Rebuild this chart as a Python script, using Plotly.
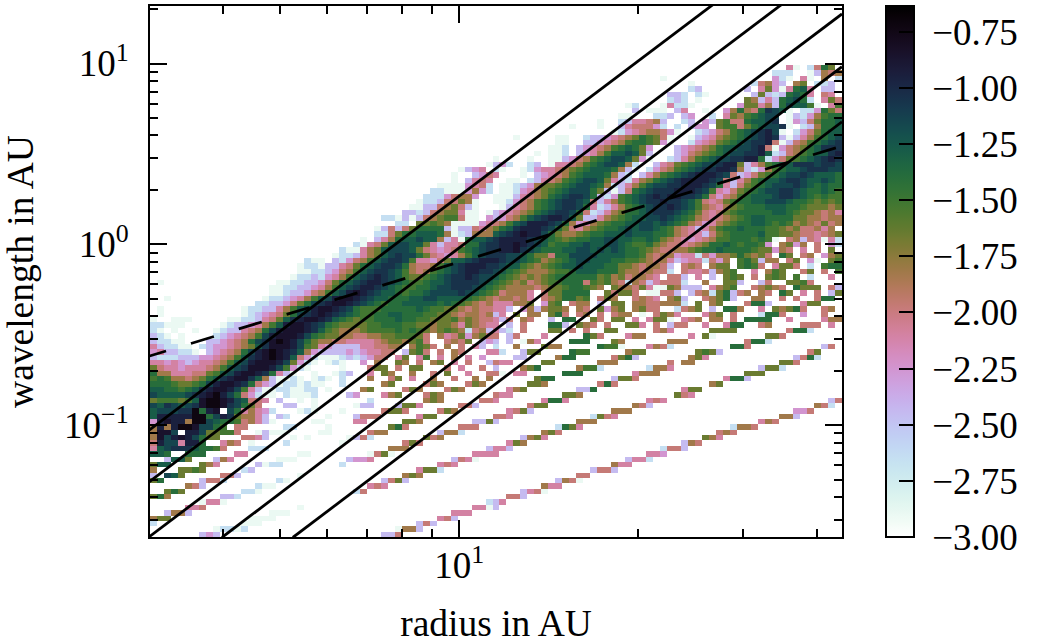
import math
import numpy as np
import plotly.graph_objects as go

# cell levels, one letter per colour step
level_values = {'a': -2.90, 'b': -2.65, 'c': -2.45, 'd': -2.25, 'e': -2.10, 'f': -1.97, 'g': -1.82, 'h': -1.65,
                'i': -1.52, 'j': -1.40, 'k': -1.28, 'l': -1.15, 'm': -1.05, 'n': -0.95, 'o': -0.85, 'p': -0.72}

# row index (0 = bottom): "first_column:levels ..."
rows_upper = {
    87: "91:ea.bfjh",
    86: "89:bbb..acgfg",
    85: "73:a 89:dba.ea.g.b",
    84: "77:a 86:bfgdc.gh.bbc",
    83: "77:bc 85:c.ehdaejke.cc",
    82: "74:ccb.ba 86:chcbcjkje.fe",
    81: "74:bcb.a 85:hgcecjkljb.ehf",
    80: "68:ab 73:aebba 84:dhhegcjlkkia.eif",
    79: "69:c.aaa.ce 79:a 82:dgjgfjmlka.bbdjhf",
    78: "67:aa...bbc.cd 80:b.ehgijkll.acbdgijji",
    77: "64:a..bceefgc..bc.dchiffjkklm.adcfhjjk",
    76: "60:a...a..cefffdb.b.cdd.hiifhjkllma.bcgjjkk",
    75: "66:abdefggfda..bcdfgijklmnla.bdfhjkk",
    74: "52:a 58:aa 62:bccdefghjihfa..acdeghijklmnmcacegijkl",
    73: "58:aa..ccdefgijjihda..bdefhijklmmnfacfgijklm",
    72: "57:aab.cdefgijkjhd...cdefghjkkllmnfadfghjkmmm",
    71: "55:a.aab.cdegikklkhc...cdfghijkllmmnkbcfgijkkmn",
    70: "49:a 54:a..aacdfgijkllkhda..bcegijkllmmnnjbdfhijklmnm",
    69: "48:acdb..bc.aeefgijkllkgb..cefhijkllmnnhcegijkkmmmlmml",
    68: "44:acde.ba..abdeefghijkkkjgca.bdfgijklmmnnmgcbdgijkklmmmll",
    67: "43:a..cdfe...a.cdefgijkkkjgcb.cegijklmnnnmlfcdfhijkllmlkkkj",
    66: "43:a.cefe..aa.bcefgijkllkhecbeghjklmnnnnmlfcegijkklmmlkklkj",
    65: "41:aaaadefb.aabcdghhijkllkjgbcegikllmmnnnmljecfhijklllmlkjkjj",
    64: "40:bbaaadgdb.aabdeghijkllljhcacfjklmmmnnnmliedfhijkllmmlkjjkji",
    63: "39:bbbdfggd..aaacefghjklmmljcbdijklmnmnnmmljfdfgijkkklmmlkjijii",
    62: "38:abbcffhga..aabdfgijklmmlkfcegijklmmnmmlkifefhijjkklllkjjihihi",
    61: "37:aaccfghfca...acefgijklmmljebcegijklmmnmlkigfeghijjjkkkjjihhhgh",
    60: "36:ccbcfghheaa.acdefghjklmmljfbceghjjklmmmlkjhfefhijjjjjkkjihhgfge",
    59: "33:bbacacfghiifaa.dcdfgiklmnnmkhcceghijkkllmlkjigfefghijkkjjjjhhggfgg",
    58: "35:bb.hhihgaaaadefgiklnnnmljgdeghijjkkllklkjigfdeghijjkkjijighgfhfg",
    57: "32:acfcfhjjjjcaccfeghjkmnnnmljhfeghijjklkllkjigfecegijjkjjjiihghffgeg",
    56: "32:bbfhjjkkkjgabcgggklmnonnljhgghijjkkklkkkjjigfeecfhijjjjkiihhgffefgh",
    55: "30:a.cegjkklkkgceajkklmnnnnmlkjihijjkkllkkjjkjhgfedefgiijjjijia.fgcfeaeb",
    54: "29:baefhkllkkheceefjjlmmnnonmlkijjkklkkllkjiijhgffefghjjkjijjid.ghdg.f.db",
    53: "27:baaeghklllkhfedefijklmmnnomlkjjjkkllklklkjjihgffgghijjkjjjjihhdgf.e.f.h.f",
}
rows_middle = {
    52: "26:abbceghklmlljhfedegiklmmmllkjhhfjjllllkkkkjjigfggdeebfdgghjhghf.jh.fg.dgh",
    51: "22:baa.cbdfgiklmmlieedfhkklmnnnmllkjighijkllkkkjjiihgfgecdeebfdg.ijhcgg.fh.da.hi",
    50: "21:abbaccefhjklmmljgffgiklmnnnmmlkkihghijkklkkkjjhhgfggfc.fgf.ghh.ijif.ehhf.b.ijj",
    49: "21:aabbcdfgiklmmlkigfgijklmnnmmlkjihggghiijkkkjjjhggfgffb.feefcghi..e.gih..fh.f.ih",
    48: "20:abbcbdegiklmnmlkihhijklmmnmllkjihghghijjjjjjhighfggfe.ffc.e.c.hih.f.hih.i.b..e",
    47: "1:a 18:aabbccdfhjklmnnmlkjiijkklmmmmlk 49:jihghfghiijjjfihigfbgfcefffb..g..hhc..cf..hhif",
    46: "17:aabbccdegiklmnnmlkjiijjkllmmmlkj 49:ihggggfghhijjihg.hggfheaahgccc.eghi..fghgf.jhhh.fc",
    45: "17:aabccdfgiklnonmlkkjijjkllllmlkji 49:hfggge.fhhjjjj..hfhhf.aaffc.cfgbhjcfg.gf.jh.e.f.ch",
    44: "2:a 16:abbcdegiklnoonmlkkjjjkkllkkkkjihg 49:fggfge.fghjjhi.fhg..fgfe.ghc..fghjc..gg..f.f..fjj",
    43: "15:bbccdfhjlmnoonmlkjijjkkkkkjkjihgfg 49:eeeggh.dhi.fgg.c.hh.ggffgggb.h.gh...fjjc....ehh...e",
    42: "1:a 13:abbccegiklnoonmljiiijjjjjkjiihhgfgff 49:eec.dgcghhg.gf.hdgh.ghff..bfgh.c.jjg..e.hghjf..fg",
    41: "1:a 13:abcdefhjlmnonmlkjiijjkkjjjiihhgfggfg 49:ce.h.gg.hjf.fg.f.fgg.a.fhge...egh.f...bjjf..d..f",
    40: "0:a 3:aaa 11:aabbcefhkmnoonmkjihiijjjkjjiihhhighgff 49:ecf.gf..c.jj..hf.hh.e.ehha.efg.gg.f.jjjj..e....egg",
    39: "0:bbaaa 10:abccdegiknoonmljihhhhiijjjiihhghhgehgfe 49:e.c.f...jjc.hgf.f..hhe.f.cff..e..ejj..fg....fff.e",
    38: "0:ba.a..a 9:abccefgjlnooonmkihggghiiiijijihghihgbfgcecb.f...hh.f.f..hh.....fge.....hhhh.......fjjb",
    37: "0:cba.a 9:bcdefgilnooonljihhggffgghhiiihf.gefhdghff.cf...e.....jhf...egg......e.ha.......hhf",
    36: "0:cbbaa 8:ccdefgjlmoponljhggffeeeefghhghif..fgfh.cdc.c.age....jjj...hg......ggg........fjjb",
    35: "0:ecbbaa.bcddefghkmooonlihedcccceeffgg.gihf.g.f.ec.b..g...hgg.....jiia...egfb........jjf..........cf",
    34: "0:deccbba.cdefgjlnoponmkgdccccdcdeeff.chif.f.gf...eeb..chh....jii.....ghh.......hihc............fh",
    33: "0:cbbbcccddefgikmnoponkfdbaaabcbcdff.eh.ei.e.g.e.d....cc....gjj.....fhjc.......ghe............cfjb",
    32: "0:eededcdeefgiklnooonlhdba.aba..d.g..hg.f.gh.e.f..cfee....hh......ggg.......f.gg............hhf",
    31: "0:hfeedeeefgiklmooonlidba....a...fhh.f.hh...f.e..f.c...ghj.....giib......bgge............chhb",
    30: "0:jggeeeffhiklnoonmjeca..a..abc..e.hg..g..f.h..e..ffa.ee.....jjj.......eggg............hhh",
    29: "0:ijiggfghjkmnoomkgcaaba.aba.b...g..fh.e..g..f..g.g......hjj........chhf............ejjc",
    28: "0:jjjihhijlnoonmjfdcabbabaa..b.....gh....fhg...fhg......hhg.......fjf.............gh",
    27: "0:kkjjijkmnoonliecaabbaabb.a....gh....fhg...fhg......egh.......ccj............ehh",
    26: "0:lkkkklmnopnljfdbaa.baaab....cd...egh...fhg.......fee.......hhg.............hfe",
}
rows_lower = {
    25: "0:hiiihikopponlkffe 18:c 21:a 23:a 31:b 39:ghg 47:ffe 56:ejje 71:efe 97:cf",
    24: "0:lkmlklmoppomljhf 19:cc 23:a 29:acc 35:chhe 44:ffc 54:fhh 69:gfc 95:gfb",
    23: "0:klllmmpjno.ljegedb 21:aba 27:a 33:fhhf 41:fhg 51:efhc 66:ggg 92:ddf",
    22: "0:knnnnnppjlnmhggec.cb 25:a 29:cfff 38:ehh 49:ffe 63:bhfe 90:ggc",
    21: "0:dnonngpplkjjifgeca 23:aa 29:ee 36:hhg 46:cchc 61:ggg 87:egf",
    20: "0:gngnppollji.ff 19:bb 25:a 34:hjf 44:fff 58:bjhe 83:bggf",
    19: "0:gool.nnlhhiif..acaaa 24:aa 31:fgg 41:cggb 56:ghf 81:fgf",
    18: "0:golnonljhh 13:ffec 20:a 22:a 28:acfb 39:hfg 53:cghe 79:hge",
    17: "0:fnllennj 10:egf.a 19:b 27:a 36:fhf 51:ehg 76:cgf",
    16: "0:eklmmmkjjif 14:bbb 34:ggg 48:ceec 73:bffc",
    15: "0:kkj 5:jjj 12:ee 21:aa 31:afha 46:eeee 71:eed",
    14: "2:ckkh 9:cge 18:aaa 28:cdde 43:cfea 68:ceeb",
    13: "0:hkk 7:hge 15:cabb 27:b 41:efe 66:gee",
    12: "0:g 4:hhih 13:bc 38:ehhb 63:cffc",
    11: "0:c 2:lkh 10:ffc 21:a 36:ghg 61:ff",
    10: "0:hj 7:cffb 18:ba 33:cfhc 58:cgfa",
    9: "5:gfc 15:baa 31:efe 56:gee",
    8: "2:hjh 13:bba 29:bf 53:cefa",
    7: "0:hjg 10:ccb 51:ffc",
    6: "7:aeea 48:bce",
    5: "5:eef 21:a 46:eeac",
    4: "2:cggc 17:aaa 43:eee",
    3: "0:ghh 14:aaaa 41:efc",
    2: "0:b 13:aaa 38:cfc",
    1: "9:abbab 35:aggc",
    0: "7:cdc 33:ccf",
}

radius_range = [3.02, 44.0]
wavelength_range = [0.02404, 20.8]
n_cols, n_rows = 99, 99

# straight guide lines (radius, wavelength at the two ends)
solid_radius = [[3.0, 44.0], [3.0, 44.0], [3.0, 44.0], [3.99, 44.0], [5.25, 44.0]]
solid_wavelength = [[0.093, 73.2], [0.0481, 37.9], [0.0239, 18.8], [0.0239, 9.6], [0.0239, 4.76]]
dash_radius = [2.94, 44.0]
dash_wavelength = [0.235, 3.50]

cbar_vals = [-0.75, -1.00, -1.25, -1.50, -1.75, -2.00, -2.25, -2.50, -2.75, -3.00]
x_major = [10]
x_minor = [4, 5, 6, 7, 8, 9, 20, 30, 40]
y_major = [0.1, 1, 10]
y_major_text = ["10<sup>\u22121</sup>", "10<sup>0</sup>", "10<sup>1</sup>"]
y_minor = [0.03, 0.04, 0.05, 0.06, 0.07, 0.08, 0.09, 0.2, 0.3, 0.4, 0.5, 0.6, 0.7, 0.8, 0.9,
           2, 3, 4, 5, 6, 7, 8, 9, 20]

z = np.full((n_rows, n_cols), np.nan)
for table in (rows_upper, rows_middle, rows_lower):
    for r, spec in table.items():
        for seg in spec.split():
            start, letters = seg.split(":")
            for i, ch in enumerate(letters):
                c = int(start) + i
                if ch != "." and c < n_cols:
                    z[r, c] = level_values[ch]

x_edges = np.logspace(math.log10(radius_range[0]), math.log10(radius_range[1]), n_cols + 1)
y_edges = np.logspace(math.log10(wavelength_range[0]), math.log10(wavelength_range[1]), n_rows + 1)


def cubehelix_r(t):
    x = 1 - t
    a = x * (1 - x) / 2
    phi = 2 * math.pi * (0.5 / 3 - 1.5 * x)
    r = x + a * (-0.14861 * math.cos(phi) + 1.78277 * math.sin(phi))
    g = x + a * (-0.29227 * math.cos(phi) - 0.90649 * math.sin(phi))
    b = x + a * (1.97294 * math.cos(phi))
    return "rgb(%d,%d,%d)" % tuple(int(round(255 * min(1, max(0, v)))) for v in (r, g, b))


colorscale = [[i / 128, cubehelix_r(i / 128)] for i in range(129)]
FONT = "Liberation Serif"
FS = 37

fig = go.Figure()
fig.add_trace(go.Heatmap(
    x=x_edges, y=y_edges, z=z, zmin=-3.0, zmax=-0.635, colorscale=colorscale, hoverongaps=False,
    colorbar=dict(x=(886 - 150) / 692, xanchor="left", xpad=0, y=0.5, yanchor="middle", ypad=0, len=1,
                  thickness=28, outlinewidth=2, outlinecolor="black",
                  tickmode="array", tickvals=cbar_vals,
                  ticktext=["\u00a0\u2212%.2f" % abs(v) for v in cbar_vals],
                  ticks="inside", ticklen=16, tickwidth=2, tickcolor="black",
                  tickfont=dict(family=FONT, size=FS, color="black")),
))
for rs, ws in zip(solid_radius, solid_wavelength):
    fig.add_trace(go.Scatter(x=rs, y=ws, mode="lines", line=dict(color="black", width=2.8), showlegend=False))
fig.add_trace(go.Scatter(x=dash_radius, y=dash_wavelength, mode="lines",
                         line=dict(color="black", width=2.8, dash="24px,26px"), showlegend=False))

axis_common = dict(type="log", showgrid=False, zeroline=False, showline=True, linecolor="black", linewidth=2,
                   mirror="allticks", ticks="inside", ticklen=17, tickwidth=2, tickcolor="black",
                   tickfont=dict(family=FONT, size=FS, color="black"), tickmode="array")
fig.update_layout(
    width=1042, height=644, margin=dict(l=150, r=200, t=3.5, b=107, pad=0),
    plot_bgcolor="white", paper_bgcolor="white", showlegend=False,
    font=dict(family=FONT, size=FS, color="black"),
    xaxis=dict(range=[math.log10(radius_range[0]), math.log10(radius_range[1])],
               tickvals=x_major, ticktext=["10<sup>1</sup>"], ticklabelstandoff=-5,
               minor=dict(tickmode="array", tickvals=x_minor, ticks="inside", ticklen=8, tickwidth=2,
                          tickcolor="black", showgrid=False),
               title=dict(text="radius in AU", font=dict(family=FONT, size=37.5), standoff=24), **axis_common),
    yaxis=dict(range=[math.log10(wavelength_range[0]), math.log10(wavelength_range[1])],
               tickvals=y_major, ticktext=y_major_text, ticklabelstandoff=12,
               minor=dict(tickmode="array", tickvals=y_minor, ticks="inside", ticklen=8, tickwidth=2,
                          tickcolor="black", showgrid=False),
               title=dict(text="wavelength in AU", font=dict(family=FONT, size=37.5), standoff=25), **axis_common),
)
fig.write_html("out.html", post_script="document.body.style.margin='0';", config={"displayModeBar": False})
